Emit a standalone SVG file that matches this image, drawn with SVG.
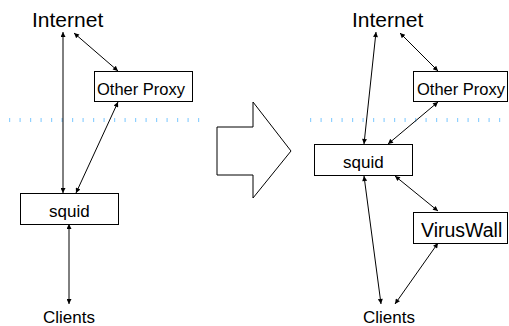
<svg xmlns="http://www.w3.org/2000/svg" width="509" height="326" viewBox="0 0 509 326">
<defs>
<style>
.box{fill:#fff;stroke:#000;stroke-width:1}
.t{font-family:"Liberation Sans",Arial,sans-serif;fill:#000}
.c{stroke:#000;stroke-width:1;fill:none;marker-start:url(#ah);marker-end:url(#ah)}
.dot{stroke:#8fd0ff;stroke-width:4;stroke-dasharray:1.2 9.3}
</style>
<marker id="ah" viewBox="0 0 10 10" refX="10" refY="5" markerUnits="userSpaceOnUse" markerWidth="8" markerHeight="5" orient="auto-start-reverse">
<path d="M0,0 L10,5 L0,10 z" fill="#000"/>
</marker>
</defs>
<rect width="509" height="326" fill="#fff"/>
<g id="separators">
<line class="dot" x1="9" y1="120" x2="200" y2="120"/>
<line class="dot" x1="310" y1="120" x2="501" y2="120"/>
</g>
<g id="connectors">
<line class="c" x1="63" y1="193" x2="63" y2="32"/>
<line class="c" x1="74" y1="33" x2="118" y2="71"/>
<line class="c" x1="118" y1="102" x2="76" y2="193"/>
<line class="c" x1="69" y1="224" x2="69" y2="304"/>
<line class="c" x1="364" y1="144" x2="376" y2="32"/>
<line class="c" x1="400" y1="33" x2="438" y2="71"/>
<line class="c" x1="438" y1="102" x2="388" y2="144"/>
<line class="c" x1="395" y1="176" x2="438" y2="211"/>
<line class="c" x1="438" y1="243" x2="395" y2="304"/>
<line class="c" x1="364" y1="176" x2="381" y2="304"/>
</g>
<g id="bigarrow">
<path d="M217,127 H253 V102 L291,151 L253,198 V175 H217 Z" fill="#fff" stroke="#000" stroke-width="1"/>
</g>
<g id="internet-left"><text class="t" x="32" y="27" font-size="21">Internet</text></g>
<g id="otherproxy-left"><rect class="box" x="94.5" y="71.5" width="98" height="30"/><text class="t" x="97" y="95" font-size="16.5">Other Proxy</text></g>
<g id="squid-left"><rect class="box" x="20.5" y="193.5" width="98" height="31"/><text class="t" x="49" y="217" font-size="17">squid</text></g>
<g id="clients-left"><text class="t" x="43" y="323" font-size="17">Clients</text></g>
<g id="internet-right"><text class="t" x="352" y="27" font-size="21">Internet</text></g>
<g id="otherproxy-right"><rect class="box" x="413.5" y="71.5" width="94" height="30"/><text class="t" x="417" y="95" font-size="16.5">Other Proxy</text></g>
<g id="squid-right"><rect class="box" x="314.5" y="144.5" width="98" height="31"/><text class="t" x="343" y="168" font-size="17">squid</text></g>
<g id="viruswall"><rect class="box" x="413.5" y="212.5" width="94" height="31"/><text class="t" x="421" y="237" font-size="19.5">VirusWall</text></g>
<g id="clients-right"><text class="t" x="363" y="323" font-size="17">Clients</text></g>
</svg>
